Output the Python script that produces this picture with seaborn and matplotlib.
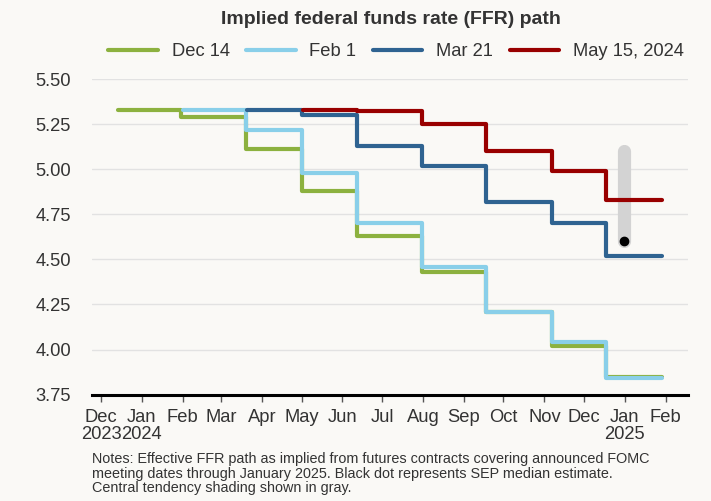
import pandas as pd
import matplotlib.pyplot as plt
import seaborn as sns

# implied FFR paths (step values between FOMC meetings)
dec14_dates = ['2023-12-14', '2024-01-31', '2024-03-20', '2024-05-01', '2024-06-12',
               '2024-07-31', '2024-09-18', '2024-11-07', '2024-12-18', '2025-01-29']
dec14_rates = [5.33, 5.29, 5.11, 4.88, 4.63, 4.43, 4.21, 4.02, 3.85, 3.85]

feb1_dates = ['2024-02-01', '2024-03-20', '2024-05-01', '2024-06-12', '2024-07-31',
              '2024-09-18', '2024-11-07', '2024-12-18', '2025-01-29']
feb1_rates = [5.33, 5.22, 4.98, 4.70, 4.46, 4.21, 4.04, 3.84, 3.84]

mar21_dates = ['2024-03-21', '2024-05-01', '2024-06-12', '2024-07-31', '2024-09-18',
               '2024-11-07', '2024-12-18', '2025-01-29']
mar21_rates = [5.33, 5.30, 5.13, 5.02, 4.82, 4.70, 4.52, 4.52]

may15_dates = ['2024-05-02', '2024-06-12', '2024-07-31', '2024-09-18', '2024-11-07',
               '2024-12-18', '2025-01-29']
may15_rates = [5.33, 5.32, 5.25, 5.10, 4.99, 4.83, 4.83]

series_names = ['Dec 14', 'Feb 1', 'Mar 21', 'May 15, 2024']
series_colors = ['#8cb13f', '#89cfe9', '#2f6391', '#990000']

# SEP median and central tendency for end of 2024
sep_date = '2024-12-31'
sep_median = 4.6
sep_low, sep_high = 4.6, 5.1

tick_dates = pd.date_range('2023-12-01', '2025-02-01', freq='MS')
tick_labels = ['Dec\n2023', 'Jan\n2024', 'Feb', 'Mar', 'Apr', 'May', 'Jun', 'Jul',
               'Aug', 'Sep', 'Oct', 'Nov', 'Dec', 'Jan\n2025', 'Feb']
y_ticks = [3.75, 4.00, 4.25, 4.50, 4.75, 5.00, 5.25, 5.50]

frames = []
for name, dates, rates in zip(series_names,
                              [dec14_dates, feb1_dates, mar21_dates, may15_dates],
                              [dec14_rates, feb1_rates, mar21_rates, may15_rates]):
    frames.append(pd.DataFrame({'date': pd.to_datetime(dates), 'rate': rates, 'series': name}))
df = pd.concat(frames, ignore_index=True)

bg = '#faf9f6'
sns.set_theme(style="whitegrid")
plt.rcParams['font.family'] = ['Liberation Sans', 'DejaVu Sans']
plt.rcParams['text.color'] = '#333333'

fig = plt.figure(figsize=(7.11, 5.01), dpi=100, facecolor=bg)
ax = fig.add_axes([0.129, 0.2122, 0.839, 0.6301])
ax.set_facecolor(bg)

sns.lineplot(data=df, x='date', y='rate', hue='series', hue_order=series_names,
             palette=series_colors, drawstyle='steps-post', linewidth=3,
             legend=False, ax=ax)
series_lines = ax.get_lines()[:4]

# central tendency bar and median dot
ax.plot(pd.to_datetime([sep_date, sep_date]), [sep_low, sep_high], color='#d3d3d3',
        lw=9.5, solid_capstyle='round', zorder=1)
ax.plot(pd.to_datetime([sep_date]), [sep_median], 'o', color='black', ms=6, zorder=5)

ax.set_xlim(pd.Timestamp('2023-11-24'), pd.Timestamp('2025-02-18'))
ax.set_ylim(3.75, 5.5)
ax.set_yticks(y_ticks)
ax.set_yticklabels([f'{v:.2f}' for v in y_ticks])
ax.set_xticks(tick_dates)
ax.set_xticklabels(tick_labels)
for lab in ax.get_xticklabels():
    lab.set_linespacing(1.0)

ax.tick_params(axis='y', length=0, pad=15, labelsize=13.2, labelcolor='#333333')
ax.tick_params(axis='x', length=5, width=1, color='#555555', pad=5,
               labelsize=13.2, labelcolor='#333333', bottom=True)
ax.xaxis.grid(False)
ax.yaxis.grid(True, color='#e2e2e2', lw=1)
ax.set_xlabel('')
ax.set_ylabel('')

ax.spines['right'].set_visible(False)
ax.spines['top'].set_visible(False)
ax.spines['left'].set_visible(False)
ax.spines['bottom'].set_color('black')
ax.spines['bottom'].set_linewidth(2.2)
ax.spines['bottom'].set_zorder(6)

fig.text(0.55, 0.961, 'Implied federal funds rate (FFR) path', ha='center', va='center',
         fontsize=14, fontweight='bold', color='#333333')

fig.legend(series_lines, series_names, loc='center', bbox_to_anchor=(0.557, 0.897),
           ncol=4, frameon=False, fontsize=13.2, handlelength=2.7, handletextpad=0.75,
           columnspacing=0.9, borderaxespad=0)

fig.text(0.129, 0.097,
         'Notes: Effective FFR path as implied from futures contracts covering announced FOMC\n'
         'meeting dates through January 2025. Black dot represents SEP median estimate.\n'
         'Central tendency shading shown in gray.',
         ha='left', va='top', fontsize=10.4, linespacing=1.02, color='#333333')

plt.savefig('out.png', dpi=100, facecolor=bg)
